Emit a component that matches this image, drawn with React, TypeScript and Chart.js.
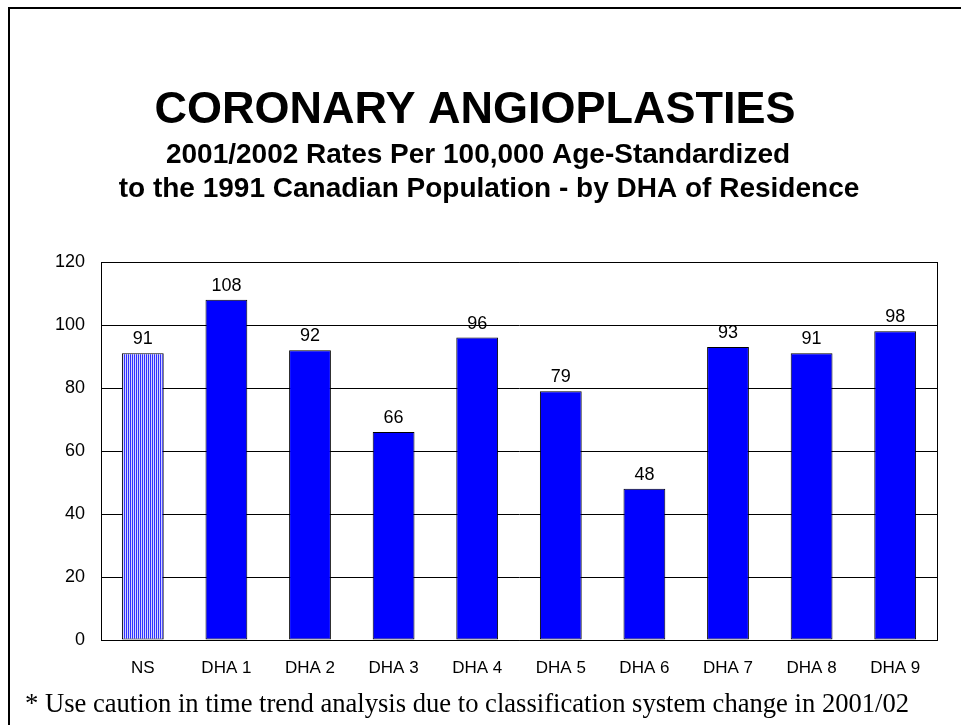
import React, { useEffect, useRef } from "react";
import { Chart, registerables } from "chart.js";

Chart.register(...registerables);

const categories = ["NS", "DHA 1", "DHA 2", "DHA 3", "DHA 4", "DHA 5", "DHA 6", "DHA 7", "DHA 8", "DHA 9"];
const rates = [91, 108, 92, 66, 96, 79, 48, 93, 91, 98];
const yTicks = [0, 20, 40, 60, 80, 100, 120];
const titleText = "CORONARY ANGIOPLASTIES";
const subtitleLines = [
  "2001/2002 Rates Per 100,000 Age-Standardized",
  "to the 1991 Canadian Population - by DHA of Residence",
];
const footnote = "* Use caution in time trend analysis due to classification system change in 2001/02";

const SANS = "'Liberation Sans', Arial, sans-serif";

function makeStripePattern(): CanvasPattern | string {
  const c = document.createElement("canvas");
  c.width = 2;
  c.height = 4;
  const ctx = c.getContext("2d");
  if (!ctx) return "#8080ff";
  ctx.fillStyle = "#3030ff";
  ctx.fillRect(0, 0, 1, 4);
  ctx.fillStyle = "#d4d4ff";
  ctx.fillRect(1, 0, 1, 4);
  return ctx.createPattern(c, "repeat") || "#8080ff";
}

export default function App() {
  const canvasRef = useRef<HTMLCanvasElement | null>(null);

  useEffect(() => {
    const canvas = canvasRef.current;
    if (!canvas) return;
    const stripe = makeStripePattern();

    const titlesPlugin = {
      id: "titlesPlugin",
      afterDraw(chart: any) {
        const ctx = chart.ctx;
        ctx.save();
        ctx.fillStyle = "#000";
        ctx.textAlign = "center";
        ctx.textBaseline = "middle";
        ctx.font = `bold 45px ${SANS}`;
        ctx.fillText(titleText, 475, 111);
        ctx.font = `bold 28px ${SANS}`;
        ctx.fillText(subtitleLines[0], 478, 155);
        ctx.fillText(subtitleLines[1], 489, 189);
        ctx.restore();
      },
    };

    const valueLabels = {
      id: "valueLabels",
      afterDatasetsDraw(chart: any) {
        const ctx = chart.ctx;
        const meta = chart.getDatasetMeta(0);
        ctx.save();
        ctx.fillStyle = "#000";
        ctx.font = `18px ${SANS}`;
        ctx.textAlign = "center";
        ctx.textBaseline = "bottom";
        meta.data.forEach((bar: any, i: number) => {
          ctx.fillText(String(rates[i]), bar.x, bar.y - 5);
        });
        ctx.restore();
      },
    };

    const chart = new Chart(canvas, {
      type: "bar",
      data: {
        labels: categories,
        datasets: [
          {
            data: rates,
            backgroundColor: rates.map((_, i) => (i === 0 ? stripe : "#0000ff")) as any,
            borderColor: "#000",
            borderWidth: 1,
            borderSkipped: false,
            barPercentage: 0.5,
            categoryPercentage: 1,
          },
        ],
      },
      options: {
        animation: false,
        responsive: false,
        devicePixelRatio: 1,
        layout: { padding: { top: 262, right: 24, left: 0, bottom: 0 } },
        plugins: {
          legend: { display: false },
          tooltip: { enabled: false },
          title: { display: false },
        },
        scales: {
          x: {
            grid: { display: false, drawTicks: false },
            border: { display: true, color: "#000", width: 1 },
            ticks: {
              color: "#000",
              font: { family: SANS, size: 17 },
              padding: 18,
              maxRotation: 0,
            },
            afterFit(scale: any) {
              scale.height = 85;
            },
          },
          y: {
            min: 0,
            max: 120,
            afterBuildTicks(scale: any) {
              scale.ticks = yTicks.map((v) => ({ value: v }));
            },
            grid: { color: "#000", lineWidth: 1, drawTicks: false },
            border: { display: true, color: "#000", width: 1 },
            ticks: {
              color: "#000",
              font: { family: SANS, size: 18 },
              padding: 16,
            },
            afterFit(scale: any) {
              scale.width = 101;
            },
          },
          x2: {
            position: "top",
            grid: { display: false, drawTicks: false },
            border: { display: true, color: "#000", width: 1 },
            ticks: { display: false },
          },
          y2: {
            position: "right",
            grid: { display: false, drawTicks: false },
            border: { display: true, color: "#000", width: 1 },
            ticks: { display: false },
          },
        } as any,
      },
      plugins: [titlesPlugin, valueLabels],
    });

    return () => chart.destroy();
  }, []);

  return (
    <div style={{ position: "fixed", left: 0, top: 0, width: 961, height: 725, background: "#fff", overflow: "hidden" }}>
      <canvas ref={canvasRef} width={961} height={725} style={{ position: "absolute", left: 0, top: 0, width: 961, height: 725 }} />
      <div
        style={{
          position: "absolute",
          left: 8,
          top: 7,
          width: 1000,
          height: 800,
          borderLeft: "2px solid #000",
          borderTop: "2px solid #000",
          boxSizing: "border-box",
          pointerEvents: "none",
        }}
      />
      <div
        style={{
          position: "absolute",
          left: 25,
          top: 687,
          fontFamily: "'Liberation Serif', 'Times New Roman', serif",
          fontSize: 26.6,
          lineHeight: "32px",
          color: "#000",
          whiteSpace: "nowrap",
        }}
      >
        {footnote}
      </div>
    </div>
  );
}
